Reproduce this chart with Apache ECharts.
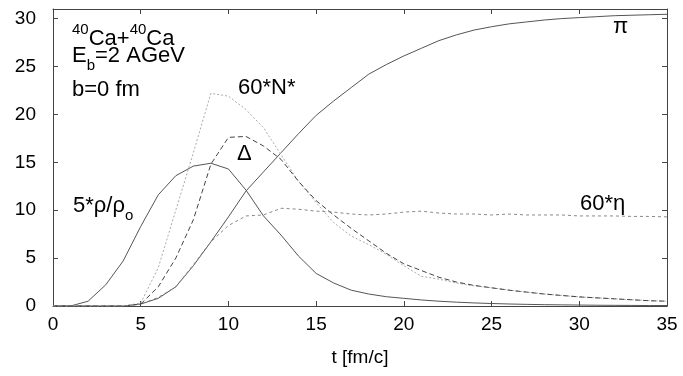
<!DOCTYPE html>
<html>
<head>
<meta charset="utf-8">
<script src="https://cdn.jsdelivr.net/npm/echarts@6/dist/echarts.min.js"></script>
<style>
html,body{margin:0;padding:0;background:#fff;}
#c{width:683px;height:376px;}
</style>
</head>
<body>
<div id="c"></div>
<script>
// time axis (fm/c)
const times = [0,1,2,3,4,5,6,7,8,9,10,11,12,13,14,15,16,17,18,19,20,21,22,23,24,25,26,27,28,29,30,31,32,33,34,35];
// 5*rho/rho0 (solid)
const density = [0,0,0.5,2.2,4.7,8.3,11.6,13.6,14.6,14.9,14.3,12.1,9.4,7.4,5.2,3.4,2.4,1.65,1.25,0.97,0.8,0.63,0.5,0.4,0.32,0.26,0.21,0.17,0.14,0.12,0.1,0.08,0.07,0.06,0.05,0.05];
// pi (solid)
const pion = [0,0,0,0,0,0.2,0.8,2.0,4.2,6.7,9.3,12.0,14.0,16.0,18.0,19.9,21.4,22.8,24.2,25.2,26.1,26.9,27.7,28.3,28.8,29.15,29.45,29.65,29.85,30.0,30.1,30.2,30.3,30.35,30.4,30.45];
// 60*N* (light dotted)
const nstar = [0,0,0,0,0,0.3,4.0,10.0,16.0,22.2,21.9,20.5,18.6,15.8,13.0,10.8,8.7,7.3,6.4,5.4,4.2,3.1,2.8,2.4,2.1,1.9,1.65,1.45,1.25,1.1,0.95,0.85,0.75,0.65,0.55,0.5];
// Delta (dashed)
const delta = [0,0,0,0,0,0.2,2.0,5.0,9.0,14.8,17.6,17.7,16.7,15.3,13.0,11.0,9.5,8.1,6.8,5.5,4.4,3.7,3.0,2.5,2.15,1.9,1.65,1.45,1.25,1.1,0.95,0.85,0.75,0.65,0.55,0.5];
// 60*eta (short dashes)
const eta = [0,0,0,0,0,0.2,0.9,2.0,4.3,6.7,8.4,9.4,9.5,10.2,10.1,9.9,9.8,9.6,9.5,9.6,9.8,9.9,9.7,9.6,9.6,9.5,9.6,9.5,9.5,9.5,9.4,9.4,9.4,9.35,9.35,9.3];

const xTicks = [0,5,10,15,20,25,30,35];
const yTicks = [0,5,10,15,20,25,30];

const pairs = arr => times.map((t,i)=>[t,arr[i]]);
const FONT = "'Liberation Sans', Arial, Helvetica, sans-serif";

const chart = echarts.init(document.getElementById('c'));
const axisCommon = {
  type:'value',
  axisLine:{show:true,onZero:false,lineStyle:{color:'#444',width:1}},
  axisTick:{show:true,inside:true,length:5,lineStyle:{color:'#444'}},
  splitLine:{show:false}
};
const mk = (name, data, color, type, width) => ({
  name, type:'line', data:pairs(data), symbol:'none', silent:true,
  lineStyle:{color, width, type}, xAxisIndex:0, yAxisIndex:0
});
chart.setOption({
  animation:false,
  backgroundColor:'#fff',
  grid:{left:53,right:16,top:9,bottom:70},
  xAxis:[
    Object.assign({}, axisCommon, {min:0,max:35,interval:5,position:'bottom',
      axisLabel:{fontSize:19,color:'#000',fontFamily:FONT,margin:9,
        formatter:v=>xTicks.includes(v)?String(v):''},
      name:'t [fm/c]',nameLocation:'middle',nameGap:42,
      nameTextStyle:{fontSize:19,color:'#000',fontFamily:FONT}}),
    Object.assign({}, axisCommon, {min:0,max:35,interval:5,position:'top',axisLabel:{show:false}})
  ],
  yAxis:[
    Object.assign({}, axisCommon, {min:0,max:31,interval:5,position:'left',
      axisLabel:{fontSize:19,color:'#000',fontFamily:FONT,margin:17,
        formatter:v=>yTicks.includes(v)?String(v):''}}),
    Object.assign({}, axisCommon, {min:0,max:31,interval:5,position:'right',axisLabel:{show:false}})
  ],
  series:[
    mk('density', density, '#555', 'solid', 1),
    mk('pion', pion, '#555', 'solid', 1),
    mk('nstar', nstar, '#aaa', [2,2], 1),
    mk('delta', delta, '#444', [5,3], 1),
    mk('eta', eta, '#888', [3,3], 1)
  ],
  graphic:[
    {type:'text',left:72,top:22,style:{text:'{sup|40}{n|Ca+}{sup|40}{n|Ca}',fill:'#000',
      rich:{n:{fontSize:22,lineHeight:34,fontFamily:FONT},sup:{fontSize:15,lineHeight:15,verticalAlign:'top',fontFamily:FONT}}}},
    {type:'text',left:72,top:45,style:{text:'{n|E}{sub|b}{n|=2 AGeV}',fill:'#000',
      rich:{n:{fontSize:22,lineHeight:34,fontFamily:FONT},sub:{fontSize:15,lineHeight:15,verticalAlign:'bottom',fontFamily:FONT}}}},
    {type:'text',left:72,top:79,style:{text:'b=0 fm',fill:'#000',font:'22px '+FONT}},
    {type:'text',left:238,top:77,style:{text:'60*N*',fill:'#000',font:'22px '+FONT}},
    {type:'text',left:237,top:143,style:{text:'Δ',fill:'#000',font:'22px '+FONT}},
    {type:'text',left:73,top:195,style:{text:'{n|5*ρ/ρ}{sub|o}',fill:'#000',
      rich:{n:{fontSize:22,lineHeight:34,fontFamily:FONT},sub:{fontSize:15,lineHeight:15,verticalAlign:'bottom',fontFamily:FONT}}}},
    {type:'text',left:580,top:193,style:{text:'60*η',fill:'#000',font:'22px '+FONT}},
    {type:'text',left:613,top:16,style:{text:'π',fill:'#000',font:'22px '+FONT}}
  ]
});
</script>
</body>
</html>
